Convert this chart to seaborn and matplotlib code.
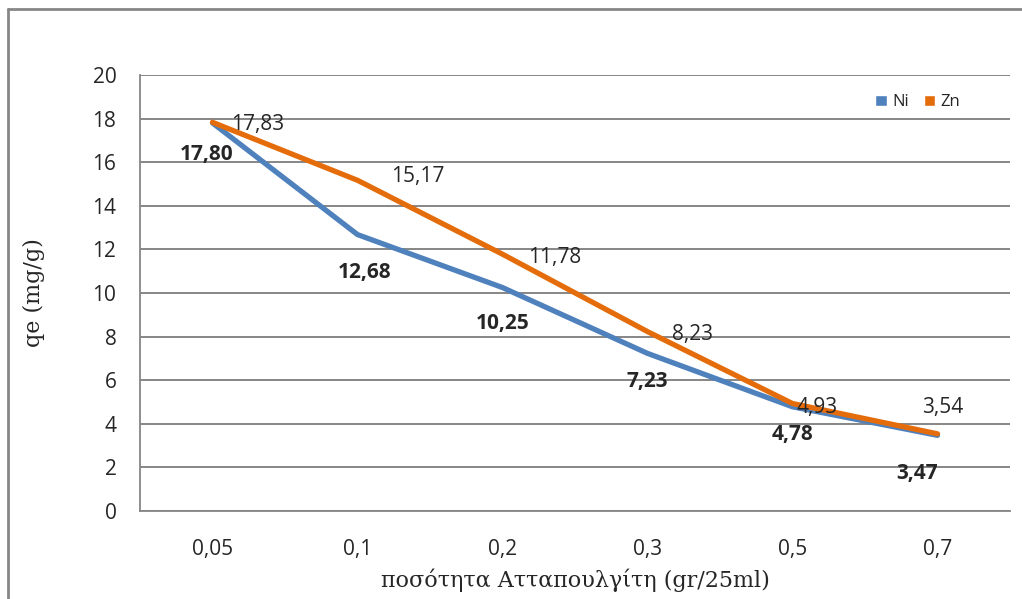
import matplotlib
matplotlib.use("Agg")
import matplotlib.pyplot as plt
from matplotlib.lines import Line2D
from matplotlib.patches import Patch
import seaborn as sns
import pandas as pd

# Adsorbent dose (gr/25ml) and adsorption capacity qe (mg/g)
doses = ["0,05", "0,1", "0,2", "0,3", "0,5", "0,7"]
ni_qe = [17.80, 12.68, 10.25, 7.23, 4.78, 3.47]
zn_qe = [17.83, 15.17, 11.78, 8.23, 4.93, 3.54]
y_ticks = [0, 2, 4, 6, 8, 10, 12, 14, 16, 18, 20]

NI_COLOR = "#4F81BD"
ZN_COLOR = "#E46C0A"
GRID = "#868686"

df = pd.concat([
    pd.DataFrame({"dose": doses, "qe": ni_qe, "metal": "Ni"}),
    pd.DataFrame({"dose": doses, "qe": zn_qe, "metal": "Zn"}),
])

sns.set_style("white")
plt.rcParams["font.family"] = ["Open Sans", "DejaVu Sans"]

fig = plt.figure(figsize=(10.22, 5.99), dpi=100)
ax = fig.add_axes([140 / 1022, 1 - 511 / 599, 870 / 1022, 436 / 599])

sns.lineplot(data=df, x="dose", y="qe", hue="metal", sort=False,
             palette={"Ni": NI_COLOR, "Zn": ZN_COLOR}, linewidth=3.8,
             legend=False, ax=ax, zorder=3)
for ln in ax.get_lines():
    ln.set_solid_capstyle("round")

ax.set_xlim(-0.5, len(doses) - 0.5)
ax.set_ylim(0, 20)
ax.set_yticks(y_ticks)
ax.set_yticklabels([str(v) for v in y_ticks], fontsize=15)
ax.set_xticks(range(len(doses)))
ax.set_xticklabels(doses, fontsize=15)
ax.set_xticks([i - 0.5 for i in range(len(doses) + 1)], minor=True)
ax.tick_params(axis="x", which="major", length=0, pad=20)
ax.tick_params(axis="x", which="minor", length=8, width=1.3, color=GRID)
ax.tick_params(axis="y", which="major", length=8, width=1.3, color=GRID, pad=9)

ax.grid(axis="y", color=GRID, linewidth=1.4, zorder=0)
ax.grid(axis="x", visible=False)
for side in ("top", "right"):
    ax.spines[side].set_visible(False)
for side in ("left", "bottom"):
    ax.spines[side].set_color(GRID)
    ax.spines[side].set_linewidth(1.3)

serif = ["DejaVu Serif"]
ax.set_ylabel("qe (mg/g)", fontsize=16, family=serif, labelpad=34)
ax.set_xlabel("ποσότητα Ατταπουλγίτη (gr/25ml)", fontsize=16, family=serif, labelpad=6)

def fmt(v):
    return f"{v:.2f}".replace(".", ",")

# Ni labels below the points (bold)
ni_offsets = [(-6, -32), (7, -38), (0, -36), (0, -28), (0, -28), (-20, -38)]
for i, (v, off) in enumerate(zip(ni_qe, ni_offsets)):
    ax.annotate(fmt(v), (i, v), xytext=off, textcoords="offset pixels",
                ha="center", va="center", fontsize=15, fontweight="bold")

# Zn labels to the right of the points
zn_offsets = [(45, -2), (60, 4), (52, -3), (45, -3), (25, -4), (5, 26)]
for i, (v, off) in enumerate(zip(zn_qe, zn_offsets)):
    ax.annotate(fmt(v), (i, v), xytext=off, textcoords="offset pixels",
                ha="center", va="center", fontsize=15)

handles = [Patch(facecolor=NI_COLOR, label="Ni"), Patch(facecolor=ZN_COLOR, label="Zn")]
ax.legend(handles=handles, loc="upper right", bbox_to_anchor=(0.96, 0.99),
          ncol=2, frameon=False, fontsize=12, handlelength=0.7, handleheight=0.7,
          handletextpad=0.3, columnspacing=0.9)

# Outer chart-area frame (top and left edges)
fig.add_artist(Line2D([8 / 1022, 1.0], [1 - 9 / 599, 1 - 9 / 599],
                      transform=fig.transFigure, color=GRID, linewidth=2))
fig.add_artist(Line2D([8 / 1022, 8 / 1022], [0, 1 - 9 / 599],
                      transform=fig.transFigure, color=GRID, linewidth=2))

fig.savefig("out.png", dpi=100)
